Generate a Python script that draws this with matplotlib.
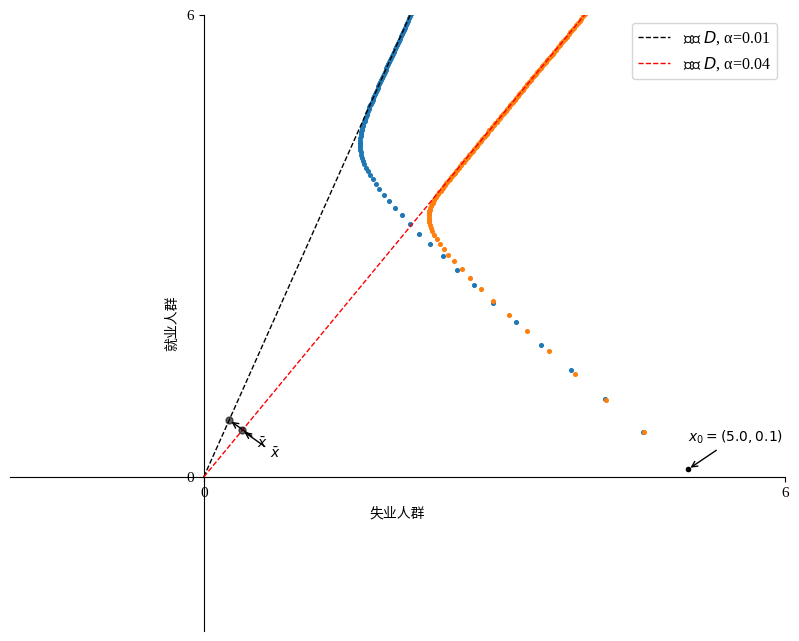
import numpy as np
import matplotlib
matplotlib.use("Agg")
import matplotlib.pyplot as plt

plt.rcParams['font.family'] = ['Liberation Serif', 'Noto Sans CJK SC', 'DejaVu Sans']
plt.rcParams['mathtext.fontset'] = 'dejavusans'
plt.rcParams['axes.unicode_minus'] = False

# Lake model parameters
alphas = [0.01, 0.04]
lam = 0.1
d = 0.02
b = 0.025
x0 = (5.0, 0.1)
T = 200
path_colors = ['#1f77b4', '#ff7f0e']
line_colors = ['k', 'r']
x_ticks = [0, 6]
y_ticks = [0, 6]
x_label = "失业人群"
y_label = "就业人群"


def transition(alpha):
    return np.array([[(1 - d) * (1 - lam) + b, (1 - d) * alpha + b],
                     [(1 - d) * lam, (1 - d) * (1 - alpha)]])


def simulate(alpha):
    A = transition(alpha)
    xs = np.empty((T, 2))
    xs[0] = x0
    for t in range(1, T):
        xs[t] = A @ xs[t - 1]
    return xs


def steady_state(alpha):
    g = b - d
    u = (1 + g - (1 - d) * (1 - alpha)) / (1 + g - (1 - d) * (1 - alpha) + (1 - d) * lam)
    return u, 1 - u


fig = plt.figure(figsize=(7.99, 6.41), dpi=100)
ax = fig.add_axes([10 / 799, 1 - 631 / 641, 775 / 799, 616 / 641])

for spine in ["left", "bottom"]:
    ax.spines[spine].set_position("zero")
for spine in ["right", "top"]:
    ax.spines[spine].set_color("none")

ax.set_xlim(-2, 6)
ax.set_ylim(-2, 6)
ax.set_xticks(x_ticks)
ax.set_yticks(y_ticks)
ax.set_xlabel(x_label, fontsize=10, labelpad=5)
ax.set_ylabel(y_label, fontsize=10, labelpad=5)
ax.tick_params(labelsize=11)

for alpha, pc in zip(alphas, path_colors):
    xs = simulate(alpha)
    ax.scatter(xs[:, 0], xs[:, 1], s=7, color=pc, zorder=2)

ax.plot([x0[0]], [x0[1]], 'ko', ms=3, zorder=3)
ax.annotate(r"$x_0 = (5.0, 0.1)$", xy=x0, xycoords="data",
            xytext=(0, 20), textcoords="offset points", fontsize=10,
            arrowprops=dict(arrowstyle="->"))

for alpha, lc in zip(alphas, line_colors):
    u, e = steady_state(alpha)
    ax.plot([0, 10 * u], [0, 10 * e], '--', color=lc, lw=1,
            label=f'固定 $D$, α={alpha}', zorder=3)
    ax.plot([u], [e], 'ko', ms=5, alpha=0.6, zorder=4)
    ax.annotate(r'$\bar{x}$', xy=(u, e), xycoords="data",
                xytext=(20, -20), textcoords="offset points", fontsize=10,
                arrowprops=dict(arrowstyle="->"))

ax.legend(loc='upper right', fontsize=11.5)

fig.savefig("out.png", dpi=100)
